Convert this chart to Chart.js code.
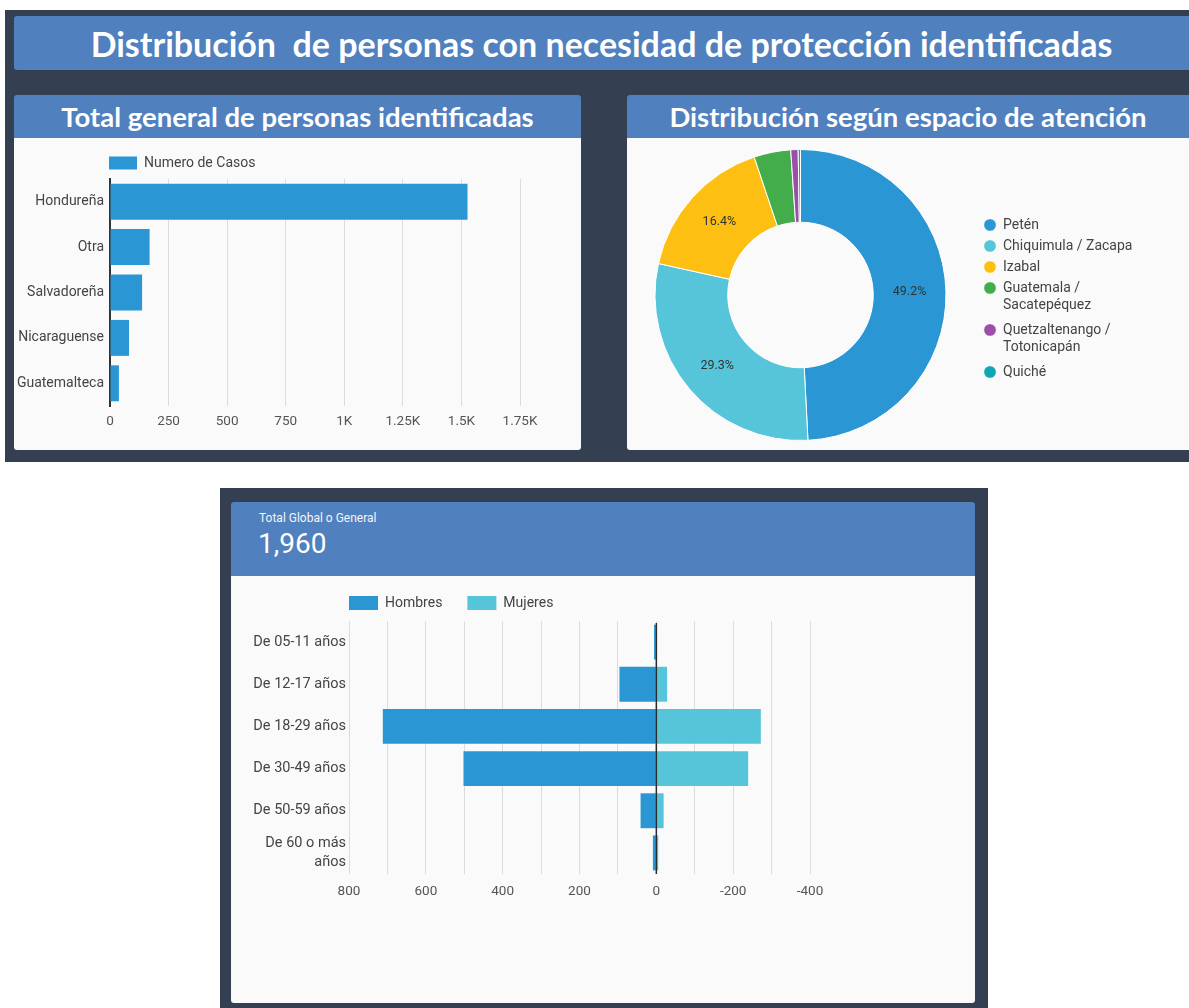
<!DOCTYPE html>
<html><head><meta charset="utf-8">
<script src="https://cdn.jsdelivr.net/npm/chart.js"></script>
<style>
html,body{margin:0;padding:0;background:#fff;width:1189px;height:1008px;overflow:hidden;font-family:Roboto,sans-serif;}
.abs{position:absolute;}
#bgTop{left:5px;top:10px;width:1184px;height:452px;background:#343f52;}
#bgBot{left:220px;top:488px;width:768px;height:520px;background:#343f52;}
.bar{background:#5080be;color:#fff;display:flex;align-items:center;justify-content:center;font-family:Lato,sans-serif;font-weight:700;white-space:nowrap;}
#titleBar{left:14px;top:16px;width:1175px;height:54px;font-size:34px;border-radius:3px 0 0 3px;}
#h1{left:14px;top:95px;width:567px;height:43px;font-size:27.5px;border-radius:3px 3px 0 0;}
#h2{left:627px;top:95px;width:562px;height:43px;font-size:27.5px;border-radius:3px 0 0 0;}
.card{background:#fafafa;}
#c1{left:14px;top:138px;width:567px;height:312px;border-radius:0 0 3px 3px;}
#c2{left:627px;top:138px;width:562px;height:312px;border-radius:0 0 0 3px;}
#h3{left:231px;top:502px;width:744px;height:74px;background:#5080be;border-radius:3px 3px 0 0;color:#fff;}
#c3{left:231px;top:576px;width:744px;height:427px;border-radius:0 0 3px 3px;}
#kpiLabel{left:259px;top:511px;font:400 12px Roboto,sans-serif;color:#f2f5fa;white-space:nowrap;}
#kpiValue{left:258px;top:527px;font:400 28px Roboto,sans-serif;color:#fff;white-space:nowrap;}
canvas{position:absolute;}
</style></head>
<body>
<div id="bgTop" class="abs"></div>
<div id="bgBot" class="abs"></div>
<div id="titleBar" class="abs bar">Distribución&nbsp; de personas con necesidad de protección identificadas</div>
<div id="h1" class="abs bar">Total general de personas identificadas</div>
<div id="h2" class="abs bar">Distribución según espacio de atención</div>
<div id="c1" class="abs card"></div>
<div id="c2" class="abs card"></div>
<div id="h3" class="abs"></div>
<div id="c3" class="abs card"></div>
<div id="kpiLabel" class="abs">Total Global o General</div>
<div id="kpiValue" class="abs">1,960</div>
<canvas id="chartNat" width="567" height="312" style="left:14px;top:138px"></canvas>
<canvas id="chartReg" width="589" height="312" style="left:600px;top:138px"></canvas>
<canvas id="chartAge" width="744" height="463" style="left:231px;top:540px"></canvas>
<script>
// ---------- DATA ----------
const natCategories = ['Hondureña', 'Otra', 'Salvadoreña', 'Nicaraguense', 'Guatemalteca'];
const natCases = [1526, 169, 137, 81, 38];
const natSeriesName = 'Numero de Casos';

const regionLabels = ['Petén', 'Chiquimula / Zacapa', 'Izabal', 'Guatemala / Sacatepéquez', 'Quetzaltenango / Totonicapán', 'Quiché'];
const regionValues = [964, 574, 321, 80, 16, 5];

const ageGroups = ['De 05-11 años', 'De 12-17 años', 'De 18-29 años', 'De 30-49 años', 'De 50-59 años', 'De 60 o más años'];
const hombres = [6, 96, 712, 502, 41, 9];
const mujeres = [-2, -28, -272, -239, -19, -5];

const totalGeneral = '1,960';

// ---------- STYLE ----------
const BLUE = '#2a96d4', CYAN = '#56c5da';
const regionColors = ['#2a96d4', '#56c5da', '#fdbf11', '#44ad4b', '#9b4fa6', '#11a4b3'];
Chart.defaults.font.family = 'Roboto, sans-serif';
Chart.defaults.color = '#555';
Chart.defaults.animation = false;

function wrap(s, maxLen) {
  if (s.length <= maxLen) return s;
  const words = s.split(' '); const lines = []; let cur = '';
  for (const w of words) {
    const t = cur ? cur + ' ' + w : w;
    if (t.length > maxLen && cur) { lines.push(cur); cur = w; } else cur = t;
  }
  if (cur) lines.push(cur);
  return lines;
}

// place legend first item box at exact canvas coordinates
const legendPlace = {
  id: 'legendPlace',
  afterLayout(chart, args, opts) {
    const lg = chart.legend; if (!lg || opts.x === undefined) return;
    const pad = lg.options.labels.padding;
    const w = lg.width, h = lg.height;
    lg.left = opts.x - pad; lg.right = lg.left + w;
    lg.top = opts.y - pad; lg.bottom = lg.top + h;
  }
};
function fixTop(chart, desired) {
  const p = chart.options.layout.padding;
  p.top = Math.max(0, p.top + desired - chart.chartArea.top);
  chart.update('none');
}

// ---------- CHART 1: nationality ----------
const natChart = new Chart(document.getElementById('chartNat'), {
  type: 'bar',
  data: { labels: natCategories, datasets: [{ label: natSeriesName, data: natCases, backgroundColor: BLUE, borderWidth: 0,
    categoryPercentage: 0.88, barPercentage: 0.9 }] },
  options: {
    responsive: false, indexAxis: 'y',
    layout: { padding: { top: 0, right: 61, bottom: 0, left: 0 } },
    plugins: {
      tooltip: { enabled: false },
      legend: { position: 'top', align: 'start',
        labels: { boxWidth: 28, boxHeight: 13, padding: 6, color: '#444', font: { size: 14 } } },
      legendPlace: { x: 95, y: 18 }
    },
    scales: {
      x: { min: 0, max: 1750, ticks: { stepSize: 250, padding: 8, color: '#555', font: { size: 13.5 },
             callback: v => v >= 1000 ? (v / 1000) + 'K' : v },
           grid: { color: '#dcdcdc', drawTicks: false }, border: { display: false },
           afterFit: s => { s.height = 44; } },
      y: { ticks: { padding: 6, color: '#444', font: { size: 14 } }, grid: { display: false, drawTicks: false },
           border: { display: true, color: '#333', width: 2 },
           afterFit: s => { s.width = 96; } }
    }
  },
  plugins: [legendPlace]
});
fixTop(natChart, 41);

// ---------- CHART 2: doughnut ----------
const pctLabels = {
  id: 'pctLabels',
  afterDatasetsDraw(chart) {
    const meta = chart.getDatasetMeta(0); const ctx = chart.ctx;
    const total = regionValues.reduce((a, b) => a + b, 0);
    ctx.save(); ctx.font = '12.5px Roboto, sans-serif'; ctx.fillStyle = '#333';
    ctx.textAlign = 'center'; ctx.textBaseline = 'middle';
    meta.data.forEach((arc, i) => {
      const pct = regionValues[i] / total * 100;
      if (pct < 5) return;
      const p = arc.tooltipPosition();
      ctx.fillText(pct.toFixed(1) + '%', p.x, p.y);
    });
    ctx.restore();
  }
};
new Chart(document.getElementById('chartReg'), {
  type: 'doughnut',
  data: { labels: regionLabels.map(l => wrap(l, 20)), datasets: [{ data: regionValues, backgroundColor: regionColors,
    borderColor: '#ffffff', borderWidth: 1 }] },
  options: {
    responsive: false, cutout: '50%',
    layout: { padding: { top: 11, bottom: 9, left: 25, right: 213 } },
    plugins: {
      tooltip: { enabled: false },
      legend: { position: 'chartArea', align: 'start',
        labels: { usePointStyle: true, pointStyle: 'circle', boxWidth: 12, boxHeight: 9, padding: 7,
                  color: '#444', font: { size: 14, lineHeight: 1.25 } } },
      legendPlace: { x: 384, y: 80 }
    }
  },
  plugins: [legendPlace, pctLabels]
});

// ---------- CHART 3: ages ----------
const zeroLine = {
  id: 'zeroLine',
  afterDatasetsDraw(chart) {
    const x = chart.scales.x.getPixelForValue(0); const a = chart.chartArea; const ctx = chart.ctx;
    ctx.save(); ctx.strokeStyle = '#2b2b2b'; ctx.lineWidth = 1.5;
    ctx.beginPath(); ctx.moveTo(x, a.top + 2); ctx.lineTo(x, a.bottom); ctx.stroke(); ctx.restore();
  }
};
const ageChart = new Chart(document.getElementById('chartAge'), {
  type: 'bar',
  data: { labels: ageGroups.map(l => wrap(l, 14)), datasets: [
    { label: 'Hombres', data: hombres, backgroundColor: BLUE, borderWidth: 0, categoryPercentage: 0.92, barPercentage: 0.9 },
    { label: 'Mujeres', data: mujeres, backgroundColor: CYAN, borderWidth: 0, categoryPercentage: 0.92, barPercentage: 0.9 }
  ] },
  options: {
    responsive: false, indexAxis: 'y',
    layout: { padding: { top: 0, right: 165, bottom: 0, left: 0 } },
    plugins: {
      tooltip: { enabled: false },
      legend: { position: 'top', align: 'start',
        labels: { boxWidth: 29, boxHeight: 14, padding: 25, color: '#444', font: { size: 14 } } },
      legendPlace: { x: 118, y: 56 }
    },
    scales: {
      x: { stacked: true, reverse: true, min: -400, max: 800,
           ticks: { stepSize: 100, padding: 10, color: '#555', font: { size: 13.5 },
             callback: v => (v % 200 === 0 ? v : '') },
           grid: { color: '#dcdcdc', drawTicks: false }, border: { display: false },
           afterFit: s => { s.height = 129; } },
      y: { stacked: true, ticks: { padding: 3, color: '#444', font: { size: 14.5, lineHeight: 1.25 } },
           grid: { display: false, drawTicks: false },
           border: { display: false }, afterFit: s => { s.width = 118; } }
    }
  },
  plugins: [legendPlace, zeroLine]
});
fixTop(ageChart, 81);
</script>
</body></html>
